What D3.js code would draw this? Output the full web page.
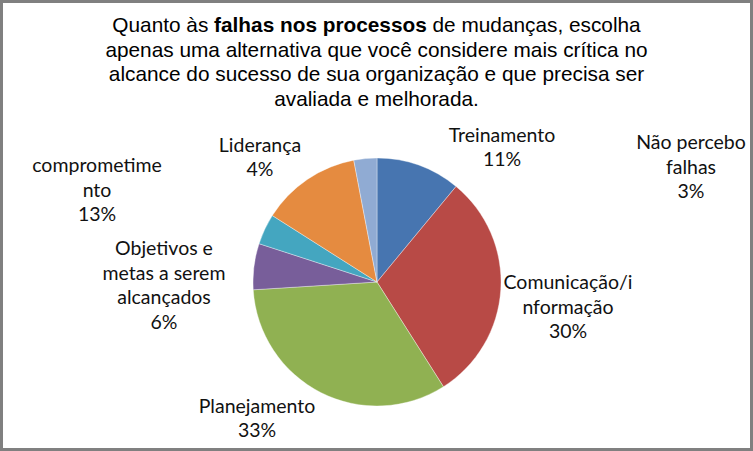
<!DOCTYPE html>
<html>
<head>
  <meta charset="utf-8">
  <title>Falhas nos processos de mudanças</title>
  <script src="https://d3js.org/d3.v7.min.js"></script>
  <style>
    body { margin: 0; background: #ffffff; }
    .chart-title { font-family: "Liberation Sans", Arial, sans-serif; font-size: 20.8px; fill: #000; }
    .slice-label { font-family: Lato, "Open Sans", sans-serif; font-size: 19.5px; fill: #111; }
  </style>
</head>
<body>
<div id="chart"></div>
<script>
  // Categories and shares (%), clockwise from 12 o'clock
  const categories = ["Treinamento", "Comunicação/informação", "Planejamento",
    "Objetivos e metas a serem alcançados", "Liderança", "comprometimento", "Não percebo falhas"];
  const shares = [11, 30, 33, 6, 4, 13, 3];
  // Label text as wrapped in the reference
  const labelLines = [
    ["Treinamento"],
    ["Comunicação/i", "nformação"],
    ["Planejamento"],
    ["Objetivos e", "metas a serem", "alcançados"],
    ["Liderança"],
    ["comprometime", "nto"],
    ["Não percebo", "falhas"]
  ];
  const colors = ["#4775B0", "#B84A46", "#90B152", "#785E9A", "#44A6C0", "#E58B40", "#90ABD3"];

  const width = 753, height = 451;
  const cx = 377, cy = 282, radius = 124;

  // label block centers, offset from pie center (best-fit placement as in the reference)
  const labelOffsets = [[125, -135], [191, 25], [-120, 136], [-213, 3], [-117, -125], [-280, -92], [314, -115]];
  const lineHeight = 24.5;

  const svg = d3.select("#chart").append("svg")
    .attr("width", width)
    .attr("height", height);

  svg.append("rect")
    .attr("x", 1.5).attr("y", 1.5)
    .attr("width", width - 3).attr("height", height - 3)
    .attr("fill", "#ffffff")
    .attr("stroke", "#808080")
    .attr("stroke-width", 3);

  // Title with bold fragment
  const titleLines = [
    [["Quanto às ", false], ["falhas nos processos", true], [" de mudanças, escolha", false]],
    [["apenas uma alternativa que você considere mais crítica no", false]],
    [["alcance do sucesso de sua organização e que precisa ser", false]],
    [["avaliada e melhorada.", false]]
  ];
  const title = svg.append("text")
    .attr("class", "chart-title")
    .attr("text-anchor", "middle");
  titleLines.forEach((parts, i) => {
    const line = title.append("tspan")
      .attr("x", width / 2)
      .attr("y", 32 + i * 24.5);
    parts.forEach(p => {
      line.append("tspan")
        .style("font-weight", p[1] ? "bold" : "normal")
        .text(p[0]);
    });
  });

  const pie = d3.pie().sort(null).value(d => d);
  const arc = d3.arc().innerRadius(0).outerRadius(radius);
  const arcs = pie(shares);

  const g = svg.append("g").attr("transform", `translate(${cx},${cy})`);

  g.selectAll("path")
    .data(arcs)
    .join("path")
    .attr("d", arc)
    .attr("fill", (d, i) => colors[i])
    .attr("stroke", "#ffffff")
    .attr("stroke-width", 0.6)
    .attr("stroke-opacity", 0.6);

  // data labels: category lines + percentage
  const labels = g.selectAll(".slice-label")
    .data(arcs)
    .join("text")
    .attr("class", "slice-label")
    .attr("text-anchor", "middle");

  labels.each(function(d, i) {
    const lines = labelLines[i].concat([d3.format(".0%")(d.value / d3.sum(shares))]);
    const top = labelOffsets[i][1] - (lines.length - 1) * lineHeight / 2;
    const t = d3.select(this);
    lines.forEach((txt, k) => {
      t.append("tspan")
        .attr("x", labelOffsets[i][0])
        .attr("y", top + k * lineHeight)
        .attr("dy", "0.35em")
        .text(txt);
    });
  });
</script>
</body>
</html>
